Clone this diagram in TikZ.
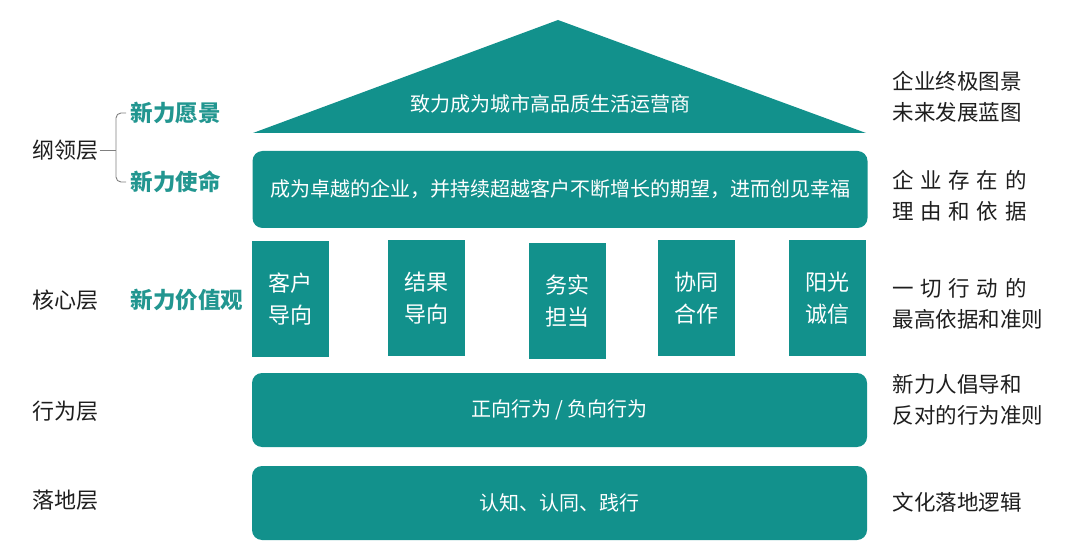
\documentclass[tikz,border=0pt]{standalone}
\usepackage{fontspec}
\setmainfont{Noto Sans CJK SC}
\usetikzlibrary{positioning}

\definecolor{teal1}{RGB}{18,145,140}
\definecolor{teal2}{RGB}{34,150,144}
\definecolor{ink}{RGB}{30,30,30}

\tikzset{
  band/.style={fill=teal1, rounded corners=10pt, minimum width=615pt, text=white,
    font=\fontsize{20}{24}\selectfont},
  pillar/.style={fill=teal1, minimum width=77pt, minimum height=116pt, text=white,
    align=center, font=\fontsize{22}{32}\selectfont},
  layer/.style={text=ink, font=\fontsize{22}{24}\selectfont},
  core/.style={text=teal2, anchor=west, font=\fontsize{22.5}{24}\selectfont\bfseries},
  note/.style={text=ink, anchor=west, align=left, font=\fontsize{21.5}{31}\selectfont},
}

\newcommand{\spread}[1]{\makebox[134pt][s]{#1}}

\begin{document}
\begin{tikzpicture}[x=1pt, y=-1pt]

  \useasboundingbox (0,0) rectangle (1080,556);

  % roof
  \fill[teal1] (558,20) -- (866,133) -- (253,133) -- cycle;
  \node (R) [text=white, font=\fontsize{20}{24}\selectfont] at (550,104) {致力成为城市高品质生活运营商};

  % bands
  \node (M) [band, minimum height=77pt] at (560,189.5) {成为卓越的企业，并持续超越客户不断增长的期望，进而创见幸福};
  \node (B) [band, minimum height=74pt] at (559.5,410) {正向行为 / 负向行为};
  \node (L) [band, minimum height=74pt] at (559.5,503) {认知、认同、践行};

  % pillars
  \node (P1) [pillar] at (290.5,299) {客户\\导向};
  \node (P2) [pillar] at (426.5,298.5) {结果\\导向};
  \node (P3) [pillar] at (567.5,301) {务实\\担当};
  \node (P4) [pillar] at (696.5,298.5) {协同\\合作};
  \node (P5) [pillar] at (827,298.5) {阳光\\诚信};

  % left labels
  \node (GL) [layer] at (65,150) {纲领层};
  \node (HX) [layer] at (65,300) {核心层};
  \node (XW) [layer] at (65,411) {行为层};
  \node (LD) [layer] at (65,500) {落地层};

  \node (YJ) [core] at (127,113) {新力愿景};
  \node (SM) [core] at (127,182) {新力使命};
  \node (JZ) [core] at (127,300) {新力价值观};

  \draw[gray, line width=0.9pt, rounded corners=5pt]
    ([xshift=-1pt]YJ.west) -- ++(-10pt,0) |- ([xshift=-1pt]SM.west);
  \draw[gray, line width=0.9pt] ([xshift=-2pt]GL.east) -- ++(16pt,0);

  % right notes
  \node (N1) [note] at (889,97) {企业终极图景\\未来发展蓝图};
  \node (N2) [note] at (889,196) {\spread{企\hfill 业\hfill 存\hfill 在\hfill 的}\\\spread{理\hfill 由\hfill 和\hfill 依\hfill 据}};
  \node (N3) [note] at (889,304) {\spread{一\hfill 切\hfill 行\hfill 动\hfill 的}\\最高依据和准则};
  \node (N4) [note] at (889,400) {新力人倡导和\\反对的行为准则};
  \node (N5) [note] at (889,502) {文化落地逻辑};

\end{tikzpicture}
\end{document}
